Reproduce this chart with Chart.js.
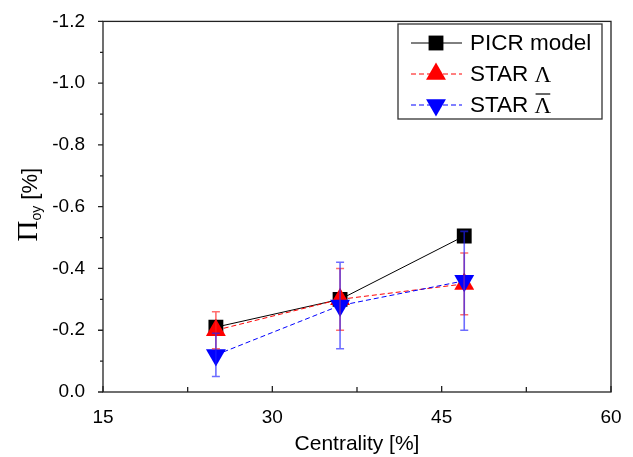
<!DOCTYPE html>
<html>
<head>
<meta charset="utf-8">
<script src="https://cdn.jsdelivr.net/npm/chart.js@4"></script>
<style>
  html, body { margin: 0; padding: 0; background: #fff; }
  #wrap { width: 633px; height: 457px; }
</style>
</head>
<body>
<div id="wrap"><canvas id="graph" width="633" height="457"></canvas></div>
<script>
// centrality bins (%)
var centralite = [25, 36, 47];

// PICR model
var picr = [-0.21, -0.30, -0.505];

// STAR Lambda
var starLambda = [-0.20, -0.30, -0.35];
var starLambdaErr = [0.06, 0.10, 0.10];

// STAR anti-Lambda
var starAntiLambda = [-0.12, -0.28, -0.36];
var starAntiLambdaErr = [0.07, 0.14, 0.16];

var xTicks = [15, 30, 45, 60];
var yTicks = [-1.2, -1.0, -0.8, -0.6, -0.4, -0.2, 0.0];

var police = "'Liberation Sans', Arial, sans-serif";
var policeSerif = "'Liberation Serif', 'Times New Roman', serif";

var toPoints = function (ys) {
    var pts = [];
    for (let i = 0; i < ys.length; i++) {
        pts.push({x: centralite[i], y: ys[i]});
    }
    return pts;
};

// error bars, frame, ticks, y title and legend
var decorPlugin = {
    id: 'decor',
    afterDatasetsDraw: function (chart) {
        var ctx = chart.ctx;
        var xs = chart.scales.x, ys = chart.scales.y;
        var errs = [
            {vals: starLambda, err: starLambdaErr, color: 'rgba(255,30,30,0.65)'},
            {vals: starAntiLambda, err: starAntiLambdaErr, color: 'rgba(30,30,255,0.65)'}
        ];
        ctx.save();
        errs.forEach(function (e) {
            ctx.strokeStyle = e.color;
            ctx.lineWidth = 1.6;
            for (let i = 0; i < e.vals.length; i++) {
                var px = xs.getPixelForValue(centralite[i]);
                var pTop = ys.getPixelForValue(e.vals[i] - e.err[i]);
                var pBot = ys.getPixelForValue(e.vals[i] + e.err[i]);
                ctx.beginPath();
                ctx.moveTo(px, pTop); ctx.lineTo(px, pBot);
                ctx.moveTo(px - 4, pTop); ctx.lineTo(px + 4, pTop);
                ctx.moveTo(px - 4, pBot); ctx.lineTo(px + 4, pBot);
                ctx.stroke();
            }
        });
        ctx.restore();
    },
    afterDraw: function (chart) {
        var ctx = chart.ctx;
        var a = chart.chartArea;
        var xs = chart.scales.x, ys = chart.scales.y;
        ctx.save();

        // frame
        ctx.strokeStyle = '#222';
        ctx.lineWidth = 1.3;
        ctx.strokeRect(a.left, a.top, a.right - a.left, a.bottom - a.top);

        // y ticks (outward)
        ctx.beginPath();
        for (let i = 0; i < yTicks.length; i++) {
            var py = ys.getPixelForValue(yTicks[i]);
            ctx.moveTo(a.left - 5, py); ctx.lineTo(a.left, py);
            if (i < yTicks.length - 1) {
                var pm = ys.getPixelForValue((yTicks[i] + yTicks[i + 1]) / 2);
                ctx.moveTo(a.left - 3, pm); ctx.lineTo(a.left, pm);
            }
        }
        // x ticks (inward)
        for (let i = 0; i < xTicks.length; i++) {
            var px = xs.getPixelForValue(xTicks[i]);
            ctx.moveTo(px, a.bottom); ctx.lineTo(px, a.bottom - 6);
            if (i < xTicks.length - 1) {
                var pxm = xs.getPixelForValue((xTicks[i] + xTicks[i + 1]) / 2);
                ctx.moveTo(pxm, a.bottom); ctx.lineTo(pxm, a.bottom - 5);
            }
        }
        ctx.stroke();

        // y title : Π_oy [%]
        ctx.translate(28, (a.top + a.bottom) / 2 - 2);
        ctx.rotate(-Math.PI / 2);
        ctx.fillStyle = '#000';
        ctx.textBaseline = 'alphabetic';
        ctx.font = '29px ' + policeSerif;
        var wPi = ctx.measureText('\u03A0').width;
        ctx.font = '14px ' + police;
        var wSub = ctx.measureText('oy').width;
        ctx.font = '22px ' + police;
        var wRest = ctx.measureText(' [%]').width;
        var x0 = -(wPi + wSub + wRest) / 2;
        ctx.font = '29px ' + policeSerif;
        ctx.fillText('\u03A0', x0, 9);
        ctx.font = '14px ' + police;
        ctx.fillText('oy', x0 + wPi, 13);
        ctx.font = '22px ' + police;
        ctx.fillText(' [%]', x0 + wPi + wSub, 9);
        ctx.setTransform(1, 0, 0, 1, 0, 0);

        // legend
        var lx = 398, ly = 24, lw = 204, lh = 95;
        ctx.fillStyle = '#fff';
        ctx.fillRect(lx, ly, lw, lh);
        ctx.strokeStyle = '#333';
        ctx.lineWidth = 1.3;
        ctx.strokeRect(lx, ly, lw, lh);

        var rows = [43, 74, 105];
        chart.data.datasets.forEach(function (ds, i) {
            var y = rows[i];
            ctx.save();
            ctx.strokeStyle = ds.borderColor;
            ctx.lineWidth = 1;
            ctx.setLineDash(ds.borderDash || []);
            ctx.beginPath();
            ctx.moveTo(411, y); ctx.lineTo(462, y);
            ctx.stroke();
            ctx.setLineDash([]);
            ctx.fillStyle = ds.pointBackgroundColor;
            ctx.strokeStyle = ds.pointBorderColor;
            Chart.helpers.drawPoint(ctx, {
                pointStyle: ds.pointStyle,
                radius: ds.pointRadius,
                rotation: ds.pointRotation || 0,
                borderWidth: 0
            }, 436, y);
            ctx.restore();

            ctx.fillStyle = '#000';
            ctx.textBaseline = 'middle';
            ctx.font = '22.5px ' + police;
            if (i === 0) {
                ctx.fillText('PICR model', 470, y + 1);
            } else {
                ctx.fillText('STAR ', 470, y + 1);
                var ws = ctx.measureText('STAR ').width;
                ctx.font = '23px ' + policeSerif;
                ctx.fillText('\u039B', 470 + ws, y + 2);
                if (i === 2) {
                    var wl = ctx.measureText('\u039B').width;
                    ctx.strokeStyle = '#000';
                    ctx.lineWidth = 1.2;
                    ctx.beginPath();
                    ctx.moveTo(470 + ws + 1, y - 11);
                    ctx.lineTo(470 + ws + wl - 1, y - 11);
                    ctx.stroke();
                }
            }
        });
        ctx.restore();
    }
};

new Chart(document.getElementById("graph").getContext('2d'), {
    type: 'scatter',
    data: {
        datasets: [{
            label: 'PICR model',
            data: toPoints(picr),
            showLine: true,
            borderColor: '#000',
            borderWidth: 1,
            pointStyle: 'rect',
            pointRadius: 10.5,
            pointHoverRadius: 10.5,
            pointBackgroundColor: '#000',
            pointBorderColor: '#000',
            pointBorderWidth: 0,
            order: 3
        }, {
            label: 'STAR \u039B',
            data: toPoints(starLambda),
            showLine: true,
            borderColor: '#ff0000',
            borderWidth: 1,
            borderDash: [5, 3],
            pointStyle: 'triangle',
            pointRadius: 11.5,
            pointHoverRadius: 11.5,
            pointBackgroundColor: '#ff0000',
            pointBorderColor: '#ff0000',
            pointBorderWidth: 0,
            order: 2
        }, {
            label: 'STAR anti-\u039B',
            data: toPoints(starAntiLambda),
            showLine: true,
            borderColor: '#0000ff',
            borderWidth: 1,
            borderDash: [5, 3],
            pointStyle: 'triangle',
            pointRotation: 180,
            pointRadius: 11.5,
            pointHoverRadius: 11.5,
            pointBackgroundColor: '#0000ff',
            pointBorderColor: '#0000ff',
            pointBorderWidth: 0,
            order: 1
        }]
    },
    options: {
        responsive: false,
        animation: false,
        events: [],
        layout: {padding: {left: 0, top: 18, right: 22, bottom: 0}},
        plugins: {
            legend: {display: false},
            tooltip: {enabled: false}
        },
        scales: {
            x: {
                type: 'linear',
                min: 15,
                max: 60,
                afterBuildTicks: function (scale) {
                    scale.ticks = xTicks.map(function (v) { return {value: v}; });
                },
                afterFit: function (scale) { scale.height = 65; },
                grid: {display: false},
                border: {display: false},
                ticks: {
                    color: '#000',
                    padding: 6,
                    maxRotation: 0,
                    font: {family: police, size: 19},
                    callback: function (v) { return String(v); }
                },
                title: {
                    display: true,
                    text: 'Centrality [%]',
                    color: '#000',
                    font: {family: police, size: 21},
                    padding: {top: 6, bottom: 0}
                }
            },
            y: {
                type: 'linear',
                min: -1.2,
                max: 0,
                reverse: true,
                afterBuildTicks: function (scale) {
                    scale.ticks = yTicks.map(function (v) { return {value: v}; });
                },
                afterFit: function (scale) { scale.width = 103; },
                grid: {display: false},
                border: {display: false},
                ticks: {
                    color: '#000',
                    padding: 10,
                    font: {family: police, size: 19},
                    callback: function (v) { return Math.abs(v) < 1e-9 ? '0.0' : v.toFixed(1); }
                }
            }
        }
    },
    plugins: [decorPlugin]
});
</script>
</body>
</html>
